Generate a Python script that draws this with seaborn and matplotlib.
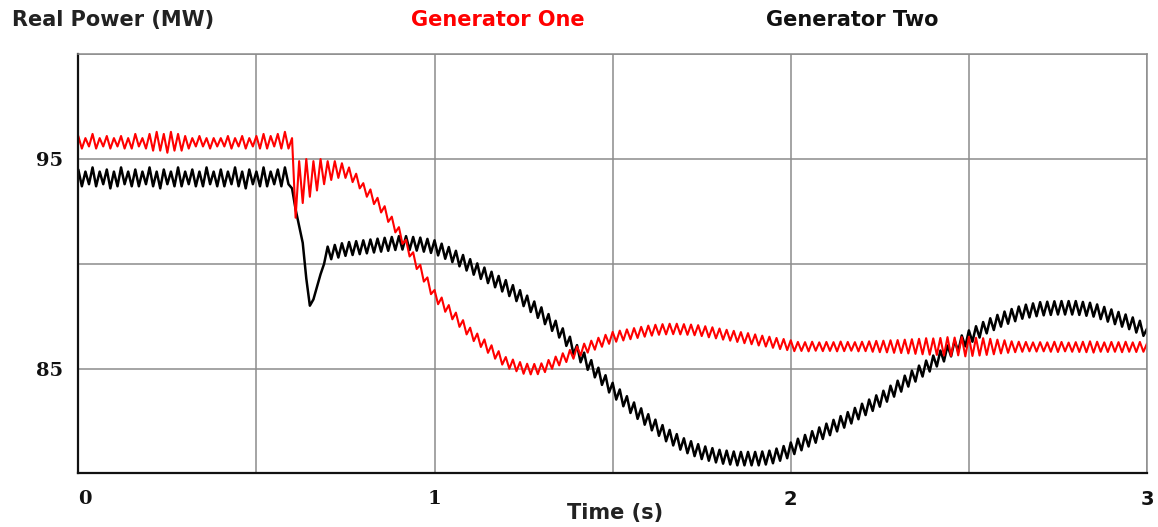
import numpy as np
import pandas as pd
import matplotlib
matplotlib.use("Agg")
import matplotlib.pyplot as plt
import seaborn as sns

# ---------------- data ----------------
sample_step = 0.01  # seconds between samples
time_s = np.round(np.arange(301) * sample_step, 2)

gen_one = [
    96.1, 95.5, 96.0, 95.6, 96.2, 95.5, 96.0, 95.6, 96.1, 95.5,
    96.0, 95.6, 96.1, 95.5, 96.0, 95.5, 96.2, 95.6, 96.0, 95.5,
    96.2, 95.4, 96.3, 95.4, 96.2, 95.3, 96.3, 95.4, 96.2, 95.4,
    96.1, 95.5, 96.0, 95.6, 96.1, 95.6, 96.0, 95.5, 96.0, 95.6,
    96.0, 95.6, 96.1, 95.5, 96.0, 95.6, 96.1, 95.5, 96.0, 95.6,
    96.1, 95.5, 96.2, 95.5, 96.1, 95.6, 96.2, 95.5, 96.3, 95.5,
    96.0, 92.2, 94.9, 92.9, 95.0, 93.2, 94.9, 93.5, 95.0, 93.8,
    94.9, 94.0, 94.9, 94.1, 94.8, 94.1, 94.6, 93.9, 94.3, 93.6,
    93.85, 93.2, 93.55, 92.85, 93.15, 92.45, 92.75, 92.0, 92.25, 91.5,
    91.75, 90.95, 91.15, 90.35, 90.55, 89.75, 89.95, 89.15, 89.35, 88.55,
    88.75, 88.07, 88.39, 87.71, 88.03, 87.35, 87.67, 86.99, 87.31, 86.63,
    86.95, 86.31, 86.67, 86.03, 86.39, 85.75, 86.11, 85.47, 85.83, 85.19,
    85.55, 84.99, 85.43, 84.87, 85.31, 84.75, 85.23, 84.72, 85.22, 84.73,
    85.25, 84.83, 85.41, 84.99, 85.57, 85.15, 85.73, 85.31, 85.89, 85.47,
    86.05, 85.62, 86.19, 85.76, 86.33, 85.9, 86.47, 86.04, 86.61, 86.18,
    86.75, 86.28, 86.81, 86.34, 86.87, 86.4, 86.93, 86.46, 86.99, 86.52,
    87.05, 86.57, 87.09, 86.61, 87.12, 86.63, 87.14, 86.64, 87.14, 86.63,
    87.12, 86.61, 87.1, 86.59, 87.07, 86.55, 87.02, 86.49, 86.97, 86.44,
    86.91, 86.38, 86.85, 86.33, 86.8, 86.27, 86.74, 86.21, 86.69, 86.16,
    86.63, 86.1, 86.57, 86.05, 86.52, 85.99, 86.46, 85.93, 86.41, 85.88,
    86.35, 85.83, 86.27, 85.84, 86.26, 85.82, 86.28, 85.85, 86.25, 85.83,
    86.27, 85.84, 86.26, 85.82, 86.29, 85.83, 86.27, 85.85, 86.26, 85.82,
    86.28, 85.83, 86.3, 85.8, 86.32, 85.78, 86.33, 85.77, 86.35, 85.75,
    86.36, 85.74, 86.38, 85.72, 86.4, 85.7, 86.42, 85.68, 86.45, 85.66,
    86.44, 85.65, 86.46, 85.62, 86.5, 85.6, 86.48, 85.63, 86.5, 85.58,
    86.52, 85.6, 86.47, 85.62, 86.45, 85.65, 86.42, 85.68, 86.38, 85.72,
    86.35, 85.75, 86.3, 85.78, 86.28, 85.8, 86.27, 85.82, 86.25, 85.81,
    86.26, 85.82, 86.25, 85.8, 86.28, 85.79, 86.27, 85.82, 86.24, 85.8,
    86.26, 85.79, 86.28, 85.78, 86.3, 85.76, 86.28, 85.8, 86.25, 85.79,
    86.27, 85.8, 86.26, 85.78, 86.28, 85.8, 86.25, 85.79, 86.27, 85.8,
    86.2,
]

gen_two = [
    94.5, 93.7, 94.4, 93.8, 94.6, 93.7, 94.4, 93.8, 94.5, 93.6,
    94.4, 93.7, 94.6, 93.8, 94.4, 93.7, 94.5, 93.7, 94.4, 93.8,
    94.6, 93.7, 94.4, 93.6, 94.5, 93.8, 94.4, 93.7, 94.6, 93.7,
    94.4, 93.8, 94.5, 93.7, 94.4, 93.7, 94.6, 93.8, 94.4, 93.7,
    94.5, 93.7, 94.4, 93.8, 94.6, 93.7, 94.4, 93.6, 94.5, 93.8,
    94.4, 93.7, 94.6, 93.7, 94.4, 93.8, 94.5, 93.7, 94.6, 93.8,
    93.6, 92.6, 91.8, 91.0, 89.3, 88.0, 88.3, 88.9, 89.5, 90.0,
    90.82, 90.22, 90.9, 90.3, 90.98, 90.38, 91.04, 90.42, 91.08, 90.46,
    91.12, 90.5, 91.16, 90.54, 91.2, 90.58, 91.24, 90.62, 91.28, 90.66,
    91.32, 90.68, 91.32, 90.66, 91.28, 90.63, 91.25, 90.58, 91.19, 90.52,
    91.12, 90.4, 90.96, 90.24, 90.8, 90.08, 90.62, 89.88, 90.42, 89.68,
    90.22, 89.48, 90.02, 89.28, 89.82, 89.08, 89.62, 88.88, 89.42, 88.68,
    89.22, 88.46, 88.98, 88.22, 88.74, 87.98, 88.48, 87.7, 88.2, 87.42,
    87.92, 87.12, 87.6, 86.8, 87.28, 86.48, 86.92, 86.08, 86.52, 85.68,
    86.12, 85.3, 85.76, 84.94, 85.4, 84.58, 85.04, 84.22, 84.68, 83.86,
    84.32, 83.52, 84.0, 83.2, 83.68, 82.88, 83.38, 82.6, 83.1, 82.32,
    82.82, 82.05, 82.56, 81.79, 82.3, 81.53, 82.07, 81.33, 81.87, 81.13,
    81.67, 80.96, 81.53, 80.82, 81.39, 80.68, 81.28, 80.6, 81.2, 80.52,
    81.12, 80.46, 81.08, 80.42, 81.04, 80.38, 81.02, 80.38, 81.02, 80.38,
    81.02, 80.38, 81.04, 80.42, 81.08, 80.48, 81.18, 80.6, 81.3, 80.72,
    81.47, 80.92, 81.65, 81.1, 81.83, 81.28, 82.01, 81.46, 82.19, 81.64,
    82.37, 81.82, 82.55, 82.0, 82.73, 82.18, 82.92, 82.38, 83.12, 82.58,
    83.32, 82.78, 83.52, 82.98, 83.72, 83.18, 83.94, 83.42, 84.18, 83.66,
    84.42, 83.9, 84.66, 84.14, 84.9, 84.38, 85.14, 84.62, 85.38, 84.86,
    85.62, 85.1, 85.86, 85.34, 86.1, 85.58, 86.34, 85.82, 86.58, 86.06,
    86.82, 86.28, 87.02, 86.48, 87.22, 86.68, 87.4, 86.84, 87.56, 87.0,
    87.72, 87.14, 87.84, 87.26, 87.96, 87.38, 88.05, 87.44, 88.11, 87.5,
    88.17, 87.54, 88.19, 87.56, 88.21, 87.58, 88.22, 87.58, 88.22, 87.58,
    88.22, 87.56, 88.18, 87.52, 88.14, 87.48, 88.06, 87.36, 87.94, 87.24,
    87.82, 87.12, 87.7, 87.0, 87.58, 86.88, 87.44, 86.72, 87.28, 86.56,
    86.9,
]

series_names = ["Generator Two", "Generator One"]
series_colors = {"Generator One": "#ff0000", "Generator Two": "#000000"}
series_widths = {"Generator One": 1.5, "Generator Two": 1.8}

x_ticks = [0, 0.5, 1, 1.5, 2, 2.5, 3]
x_tick_labels = ["0", "", "1", "", "2", "", "3"]
y_ticks = [80, 85, 90, 95, 100]
y_tick_labels = ["", "85", "", "95", ""]

# ---------------- figure ----------------
sns.set_style("white")
plt.rcParams["font.family"] = ["DejaVu Sans"]

fig = plt.figure(figsize=(11.58, 5.27), dpi=100)
ax = fig.add_axes([78.3 / 1158, 1 - 473.3 / 527, (1147 - 78.3) / 1158, (473.3 - 54.3) / 527])

df = pd.DataFrame({"Time": time_s, "Generator One": gen_one, "Generator Two": gen_two})
long = df.melt(id_vars="Time", var_name="Series", value_name="Power")

for name in series_names:
    sns.lineplot(data=long[long["Series"] == name], x="Time", y="Power",
                 color=series_colors[name], estimator=None, sort=False,
                 linewidth=series_widths[name], legend=False, ax=ax)

ax.set_xlim(0, 3)
ax.set_ylim(80, 100)
ax.set_xticks(x_ticks)
ax.set_xticklabels(x_tick_labels)
ax.set_yticks(y_ticks)
ax.set_yticklabels(y_tick_labels)
ax.set_xlabel("")
ax.set_ylabel("")

grid_color = "#8c8c8c"
ax.grid(True, color=grid_color, linewidth=1.1)
ax.set_axisbelow(True)
for side in ("left", "bottom"):
    ax.spines[side].set_color("#111111")
    ax.spines[side].set_linewidth(1.6)
for side in ("top", "right"):
    ax.spines[side].set_color(grid_color)
    ax.spines[side].set_linewidth(1.1)

ax.tick_params(axis="x", length=0, pad=12)
ax.tick_params(axis="y", length=0, pad=11)

serif_labels = {"0", "1", "85", "95"}
for lbl in ax.get_xticklabels() + ax.get_yticklabels():
    lbl.set_color("#111111")
    lbl.set_fontweight("bold")
    if lbl.get_text() in serif_labels:
        lbl.set_fontfamily("DejaVu Serif")
        lbl.set_fontsize(14)
    else:
        lbl.set_fontfamily("DejaVu Sans")
        lbl.set_fontsize(14)
    if lbl.get_text() == "0":
        lbl.set_horizontalalignment("left")

head_y = 1 - 20 / 527
fig.text(12 / 1158, head_y, "Real Power (MW)", ha="left", va="center",
         fontsize=15, fontweight="bold", color="#222222")
fig.text(498 / 1158, head_y, "Generator One", ha="center", va="center",
         fontsize=15, fontweight="bold", color="#ff0000")
fig.text(852 / 1158, head_y, "Generator Two", ha="center", va="center",
         fontsize=15, fontweight="bold", color="#111111")
fig.text(615 / 1158, 1 - 513 / 527, "Time (s)", ha="center", va="center",
         fontsize=15, fontweight="bold", color="#222222")

fig.savefig("out.png", dpi=100)
